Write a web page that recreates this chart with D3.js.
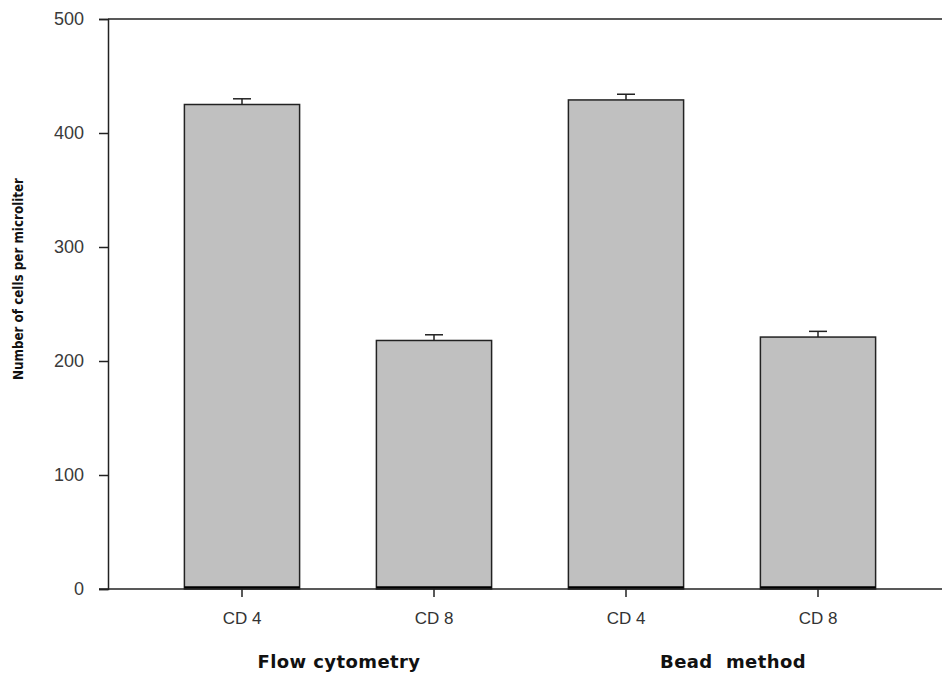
<!DOCTYPE html>
<html>
<head>
<meta charset="utf-8">
<script src="https://cdn.jsdelivr.net/npm/d3@7"></script>
<style>
  html, body { margin: 0; padding: 0; background: #fff; }
  svg { display: block; }
</style>
</head>
<body>
<svg id="chart" width="942" height="677"></svg>
<script>
const categories = ["CD 4", "CD 8", "CD 4", "CD 8"];
const groups = ["Flow cytometry", "Bead  method"];
const groupOfBar = [0, 0, 1, 1];
const values = [425, 218, 429, 221];
const errors = [5, 5, 5, 5];
const yTicks = [0, 100, 200, 300, 400, 500];
const yLabel = "Number of cells per microliter";

const svg = d3.select("#chart");
const mLeft = 108, mRight = 942, mTop = 19, mBottom = 589;

const y = d3.scaleLinear().domain([0, 500]).range([mBottom, mTop]);
const x = d3.scaleBand().domain(d3.range(categories.length))
  .range([146, 914]).paddingInner(0.4).paddingOuter(0.2);

const ink = "#222";

// Bars
svg.append("g").selectAll("rect").data(values).join("rect")
  .attr("x", (d, i) => x(i))
  .attr("y", d => y(d))
  .attr("width", x.bandwidth())
  .attr("height", d => y(0) - y(d))
  .attr("fill", "#c0c0c0")
  .attr("stroke", ink)
  .attr("stroke-width", 1.5);

// Thick bottom of bars
svg.append("g").selectAll("line").data(values).join("line")
  .attr("x1", (d, i) => x(i))
  .attr("x2", (d, i) => x(i) + x.bandwidth())
  .attr("y1", y(0) - 1.5).attr("y2", y(0) - 1.5)
  .attr("stroke", "#000").attr("stroke-width", 2.5);

// Error bars (upper only)
const eb = svg.append("g").attr("stroke", ink).attr("stroke-width", 1.5);
values.forEach((v, i) => {
  const cx = x(i) + x.bandwidth() / 2;
  eb.append("line").attr("x1", cx).attr("x2", cx).attr("y1", y(v)).attr("y2", y(v + errors[i]));
  eb.append("line").attr("x1", cx - 9).attr("x2", cx + 9).attr("y1", y(v + errors[i])).attr("y2", y(v + errors[i]));
});

// Y axis
const yAxis = d3.axisLeft(y).tickValues(yTicks).tickSize(9).tickPadding(15).tickFormat(d3.format("d"));
const gy = svg.append("g").attr("transform", `translate(${mLeft},0)`).call(yAxis);
gy.select(".domain").attr("stroke", ink).attr("stroke-width", 1.5);
gy.selectAll(".tick line").attr("stroke", ink).attr("stroke-width", 1.5);
gy.selectAll(".tick text").attr("fill", "#3a3a3a")
  .style("font-family", "'Liberation Sans', Arial, sans-serif").style("font-size", "18px");

// Top frame line
svg.append("line").attr("x1", mLeft).attr("x2", mRight).attr("y1", y(500)).attr("y2", y(500))
  .attr("stroke", ink).attr("stroke-width", 1.5);

// X axis
const xAxis = d3.axisBottom(x).tickSize(8).tickPadding(15).tickFormat(i => categories[i]);
const gx = svg.append("g").attr("transform", `translate(0,${mBottom})`).call(xAxis);
gx.select(".domain").remove();
gx.selectAll(".tick line").attr("stroke", ink).attr("stroke-width", 1.5);
gx.selectAll(".tick text").attr("fill", "#333")
  .style("font-family", "'Liberation Sans', Arial, sans-serif").style("font-size", "17px");
svg.append("line").attr("x1", 99).attr("x2", mRight).attr("y1", mBottom).attr("y2", mBottom)
  .attr("stroke", ink).attr("stroke-width", 1.5);

// Group labels
const groupShift = [1, 11];
groups.forEach((g, gi) => {
  const idx = d3.range(categories.length).filter(i => groupOfBar[i] === gi);
  const cx = d3.mean(idx, i => x(i) + x.bandwidth() / 2) + groupShift[gi];
  svg.append("text").attr("x", cx).attr("y", 668)
    .attr("text-anchor", "middle")
    .style("white-space", "pre")
    .attr("xml:space", "preserve")
    .style("font-family", "'DejaVu Sans', Verdana, sans-serif")
    .style("font-weight", "bold").style("font-size", "18px")
    .style("letter-spacing", "0.4px").attr("fill", "#111")
    .text(g);
});

// Y label
svg.append("text")
  .attr("transform", `translate(23,279) rotate(-90)`)
  .attr("text-anchor", "middle")
  .attr("textLength", 202).attr("lengthAdjust", "spacingAndGlyphs")
  .style("font-family", "'DejaVu Sans', Verdana, sans-serif")
  .style("font-weight", "bold").style("font-size", "13.5px").attr("fill", "#111")
  .text(yLabel);
</script>
</body>
</html>
